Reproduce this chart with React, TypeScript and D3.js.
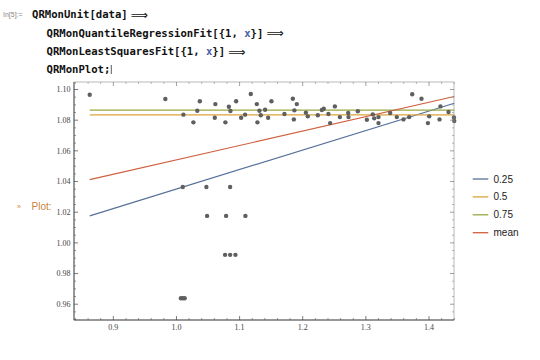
import React from "react";
import * as d3 from "d3";

const xValues = [0.8626, 0.9824, 1.007, 1.010, 1.013, 1.010, 1.011, 1.0268, 1.033, 1.037, 1.0474, 1.0485, 1.0616, 1.0607, 1.077, 1.0775, 1.0786, 1.083, 1.085, 1.085, 1.0855, 1.0934, 1.0945, 1.1024, 1.1087, 1.1092, 1.1177, 1.1273, 1.1282, 1.1314, 1.1336, 1.1404, 1.1452, 1.1504, 1.171, 1.1843, 1.1906, 1.1868, 1.1859, 1.205, 1.208, 1.2239, 1.2303, 1.2334, 1.2407, 1.2434, 1.2509, 1.2588, 1.272, 1.2725, 1.2873, 1.3016, 1.311, 1.3132, 1.32, 1.32, 1.3385, 1.349, 1.3596, 1.3686, 1.3734, 1.3881, 1.3983, 1.4003, 1.4167, 1.4182, 1.4309, 1.4395, 1.44];
const yValues = [1.0966, 1.0938, 0.9639, 0.9639, 0.9639, 1.0364, 1.0836, 1.0786, 1.0862, 1.0923, 1.0364, 1.0176, 1.0905, 1.0816, 0.9922, 1.0786, 1.0176, 1.0888, 0.9922, 1.0364, 1.086, 0.9922, 1.0923, 1.0816, 1.0836, 1.0176, 1.0971, 1.0905, 1.0786, 1.0862, 1.0832, 1.0868, 1.0816, 1.0923, 1.084, 1.094, 1.0905, 1.0864, 1.0805, 1.0849, 1.0825, 1.0832, 1.0866, 1.0875, 1.084, 1.0781, 1.089, 1.082, 1.0847, 1.082, 1.0858, 1.0803, 1.0838, 1.0812, 1.082, 1.0781, 1.0847, 1.082, 1.0805, 1.082, 1.0969, 1.094, 1.0781, 1.0825, 1.0805, 1.089, 1.0853, 1.0818, 1.0795];

const fitNames = ["0.25", "0.5", "0.75", "mean"];
const fitIntercepts = [0.908, 1.0834, 1.0866, 0.9601];
const fitSlopes = [0.1271, 0, 0, 0.094];
const fitColors = ["#56709a", "#d9a43a", "#94aa40", "#cf5f3e"];

const yMajorTicks = [0.96, 0.98, 1.0, 1.02, 1.04, 1.06, 1.08, 1.1];
const yTickLabels = ["0.96", "0.98", "1.00", "1.02", "1.04", "1.06", "1.08", "1.10"];
const xMajorTicks = [0.9, 1.0, 1.1, 1.2, 1.3, 1.4];
const xTickLabels = ["0.9", "1.0", "1.1", "1.2", "1.3", "1.4"];

const codeLines = [
  ["QRMonUnit[data]"],
  ["QRMonQuantileRegressionFit[{1, ", "x", "}]"],
  ["QRMonLeastSquaresFit[{1, ", "x", "}]"],
  ["QRMonPlot;"],
];

export default function App() {
  const W = 540, H = 360;
  const L = 74, R = 454, T = 82, B = 320;
  const x = d3.scaleLinear().domain([0.8377, 1.4396]).range([L, R]);
  const y = d3.scaleLinear().domain([0.9497, 1.1049]).range([B, T]);
  const xMin = d3.min(xValues)!, xMax = d3.max(xValues)!;

  const yMinor = d3.range(0.95, 1.1001, 0.005).filter(v => !yMajorTicks.some(m => Math.abs(m - v) < 1e-6));
  const xMinor = d3.range(0.84, 1.4401, 0.02).filter(v => !xMajorTicks.some(m => Math.abs(m - v) < 1e-6));

  const fitPath = (k: number) =>
    d3.line<number>().x(d => x(d)).y(d => y(fitIntercepts[k] + fitSlopes[k] * d))([xMin, xMax]) || "";

  const codeFont = "'DejaVu Sans Mono', monospace";
  const codeY = [18, 36.5, 55, 73];
  const codeX = [32, 46.5, 46.5, 46.5];
  const charW = 6.38;

  return (
    <svg width={W} height={H} style={{ position: "absolute", left: 0, top: 0, background: "#fff" }}>
      <rect width={W} height={H} fill="#fff" />
      <text x={3} y={17} fontFamily="'Liberation Sans', Arial, sans-serif" fontSize={7} fill="#888">In[5]:=</text>
      {codeLines.map((parts, i) => {
        const full = parts.join("");
        return (
          <g key={i}>
            <text x={codeX[i]} y={codeY[i]} fontFamily={codeFont} fontWeight="bold" fontSize={10.6} fill="#111">
              {parts.length === 3 ? (
                <>
                  <tspan>{parts[0]}</tspan>
                  <tspan fill="#4a5ea8">{parts[1]}</tspan>
                  <tspan>{parts[2]}</tspan>
                </>
              ) : parts[0]}
            </text>
            {i < 3 && (
              <text x={codeX[i] + full.length * charW + 3} y={codeY[i] + 0.5} fontFamily="'DejaVu Sans', sans-serif" fontSize={12} fill="#111">⟹</text>
            )}
            {i === 3 && (
              <line x1={codeX[i] + full.length * charW + 1} x2={codeX[i] + full.length * charW + 1} y1={codeY[i] - 8} y2={codeY[i] + 1} stroke="#333" strokeWidth={0.8} />
            )}
          </g>
        );
      })}

      <text x={17} y={209} fontFamily="'Liberation Sans', Arial, sans-serif" fontSize={7} fill="#d08a3a">»</text>
      <text x={31.5} y={209.5} fontFamily="'Liberation Sans', Arial, sans-serif" fontSize={10} fill="#c98438">Plot:</text>

      {fitNames.map((n, k) => (
        <path key={n} d={fitPath(k)} stroke={fitColors[k]} strokeWidth={1.2} fill="none" />
      ))}

      {xValues.map((xv, i) => (
        <circle key={i} cx={x(xv)} cy={y(yValues[i])} r={2.2} fill="#5f5f5f" />
      ))}

      <rect x={L} y={T} width={R - L} height={B - T} fill="none" stroke="#8a8a8a" strokeWidth={0.6} />
      <line x1={L} x2={L} y1={T} y2={B} stroke="#444" strokeWidth={0.9} />
      <line x1={L} x2={R} y1={B} y2={B} stroke="#444" strokeWidth={0.9} />

      {yMajorTicks.map((v, i) => (
        <g key={"ym" + i}>
          <line x1={L} x2={L + 4} y1={y(v)} y2={y(v)} stroke="#444" strokeWidth={0.7} />
          <line x1={R} x2={R - 4} y1={y(v)} y2={y(v)} stroke="#777" strokeWidth={0.7} />
          <text x={70.5} y={y(v) + 2.7} textAnchor="end" fontFamily="'Liberation Serif', 'Times New Roman', serif" fontSize={8} fill="#444">{yTickLabels[i]}</text>
        </g>
      ))}
      {yMinor.map((v, i) => (
        <g key={"yn" + i}>
          <line x1={L} x2={L + 2} y1={y(v)} y2={y(v)} stroke="#555" strokeWidth={0.6} />
          <line x1={R} x2={R - 2} y1={y(v)} y2={y(v)} stroke="#888" strokeWidth={0.6} />
        </g>
      ))}

      {xMajorTicks.map((v, i) => (
        <g key={"xm" + i}>
          <line x1={x(v)} x2={x(v)} y1={B} y2={B - 4} stroke="#444" strokeWidth={0.7} />
          <line x1={x(v)} x2={x(v)} y1={T} y2={T + 4} stroke="#777" strokeWidth={0.7} />
          <text x={x(v)} y={330} textAnchor="middle" fontFamily="'Liberation Serif', 'Times New Roman', serif" fontSize={8} fill="#444">{xTickLabels[i]}</text>
        </g>
      ))}
      {xMinor.map((v, i) => (
        <g key={"xn" + i}>
          <line x1={x(v)} x2={x(v)} y1={B} y2={B - 2} stroke="#555" strokeWidth={0.6} />
          <line x1={x(v)} x2={x(v)} y1={T} y2={T + 2} stroke="#888" strokeWidth={0.6} />
        </g>
      ))}

      {fitNames.map((n, k) => {
        const ly = 179 + k * 17.9;
        return (
          <g key={"lg" + n}>
            <line x1={472.7} x2={488.3} y1={ly} y2={ly} stroke={fitColors[k]} strokeWidth={1.3} />
            <text x={493.5} y={ly + 3.5} fontFamily="'Liberation Sans', Arial, sans-serif" fontSize={10} fill="#222">{n}</text>
          </g>
        );
      })}
    </svg>
  );
}
